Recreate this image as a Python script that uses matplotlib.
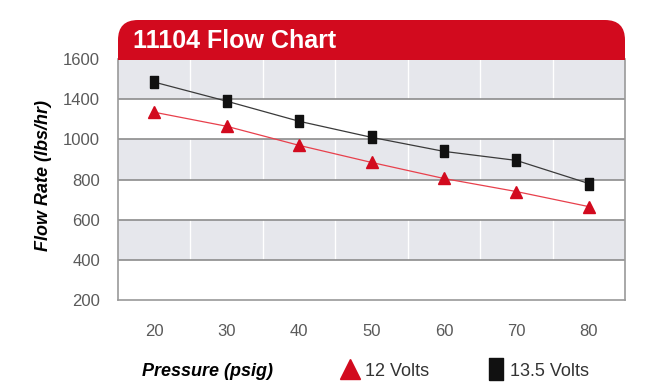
import matplotlib
matplotlib.use("Agg")
import matplotlib.pyplot as plt
from matplotlib.patches import FancyBboxPatch, Rectangle
from matplotlib.lines import Line2D

plt.rcParams["font.family"] = ["Liberation Sans Narrow", "Liberation Sans", "DejaVu Sans"]

# data (axis is linear, the printed labels skip 1200)
pressure = [20, 30, 40, 50, 60, 70, 80]
flow_12v = [1135, 1065, 970, 885, 805, 740, 665]
flow_135v = [1285, 1190, 1090, 1010, 940, 895, 780]
y_ticks = [200, 400, 600, 800, 1000, 1200, 1400]
y_labels = ["200", "400", "600", "800", "1000", "1400", "1600"]

RED = "#d20a1e"
TICK_GREY = "#5a5a5a"
BAND = "#e6e7ec"

# tall rectangle marker like the original
rect_marker = [(-0.33, -0.5), (0.33, -0.5), (0.33, 0.5), (-0.33, 0.5), (-0.33, -0.5)]


def main():
    fig = plt.figure(figsize=(6.6, 3.85), dpi=100)
    ax = fig.add_axes([118 / 660, 1 - 300 / 385, 507 / 660, 241 / 385])

    ax.set_xlim(15, 85)
    ax.set_ylim(200, 1400)

    # alternating bands
    for lo in (400, 800, 1200):
        ax.axhspan(lo, lo + 200, color=BAND, lw=0, zorder=0)
    for xv in range(25, 80, 10):
        ax.axvline(xv, color="white", lw=1.0, zorder=1)
    for yv in y_ticks[1:]:
        ax.axhline(yv, color="#8c8c8c", lw=1.2, zorder=2)

    ax.plot(pressure, flow_12v, color="#e8404c", lw=0.9, marker="^",
            ms=9, mfc=RED, mec=RED, zorder=4)
    ax.plot(pressure, flow_135v, color="#3a3a3a", lw=0.9, marker=rect_marker,
            ms=9, mfc="#111111", mec="#111111", zorder=5)

    ax.set_xticks(pressure)
    ax.set_yticks(y_ticks)
    ax.set_yticklabels(y_labels)
    ax.tick_params(axis="both", length=0, labelsize=12, labelcolor=TICK_GREY)
    ax.tick_params(axis="y", pad=13)
    ax.tick_params(axis="x", pad=17)

    for side in ("left", "right", "bottom"):
        ax.spines[side].set_color("#9a9a9a")
        ax.spines[side].set_linewidth(1.2)
    ax.spines["top"].set_visible(False)

    # red banner with rounded top corners (inch coords)
    x0, x1 = 118 / 100, 625 / 100
    y_top, y_bot = (385 - 20) / 100, (385 - 60) / 100
    fig.add_artist(FancyBboxPatch((x0, y_bot), x1 - x0, y_top - y_bot,
                                  boxstyle="round,pad=0,rounding_size=0.2",
                                  transform=fig.dpi_scale_trans,
                                  fc=RED, ec="none"))
    fig.add_artist(Rectangle((x0, y_bot), x1 - x0, (y_top - y_bot) / 2,
                             transform=fig.dpi_scale_trans, fc=RED, ec="none"))
    fig.text(133 / 660, 1 - 41 / 385, "11104 Flow Chart", color="white",
             fontsize=18, fontweight="bold", va="center", ha="left")

    fig.text(44 / 660, 1 - 175 / 385, "Flow Rate (lbs/hr)", rotation=90,
             fontsize=13, fontweight="bold", fontstyle="italic",
             ha="center", va="center")
    fig.text(207 / 660, 1 - 371 / 385, "Pressure (psig)",
             fontsize=13, fontweight="bold", fontstyle="italic",
             ha="center", va="center")

    handles = [
        Line2D([], [], ls="none", marker="^", ms=15, mfc=RED, mec=RED),
        Line2D([], [], ls="none", marker=rect_marker, ms=16, mfc="#111111", mec="#111111"),
    ]
    fig.legend(handles, ["12 Volts", "13.5 Volts"], ncol=2, frameon=False,
               loc="center left", bbox_to_anchor=(325 / 660, 1 - 371 / 385),
               handlelength=1.0, handletextpad=0.3, columnspacing=3.2,
               prop={"size": 13}, labelcolor="#333333")

    fig.savefig("out.png", dpi=100)


if __name__ == "__main__":
    main()
